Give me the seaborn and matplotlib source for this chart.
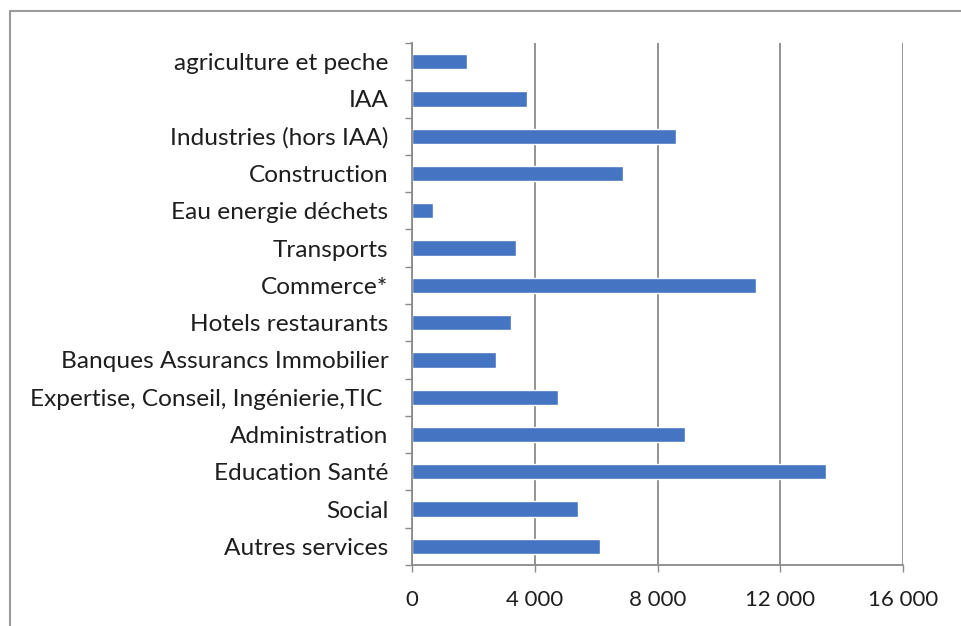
import matplotlib
matplotlib.use("Agg")
import matplotlib.pyplot as plt
import matplotlib.ticker as mticker
from matplotlib.lines import Line2D
import seaborn as sns
import pandas as pd

categories = [
    "agriculture et peche",
    "IAA",
    "Industries (hors IAA)",
    "Construction",
    "Eau energie déchets",
    "Transports",
    "Commerce*",
    "Hotels restaurants",
    "Banques Assurancs Immobilier",
    "Expertise, Conseil, Ingénierie,TIC ",
    "Administration",
    "Education Santé",
    "Social",
    "Autres services",
]
values = [1800, 3750, 8600, 6870, 690, 3400, 11200, 3240, 2740, 4750, 8890, 13490, 5410, 6120]
xticks = [0, 4000, 8000, 12000, 16000]

df = pd.DataFrame({"secteur": categories, "emplois": values})

sns.set_theme(style="white")
plt.rcParams["font.family"] = ["Lato", "DejaVu Sans"]

fig = plt.figure(figsize=(9.62, 6.26), dpi=100)
ax = fig.add_axes([412 / 962, 1 - 565 / 626, 491 / 962, 522 / 626])

sns.barplot(data=df, x="emplois", y="secteur", orient="h", color="#4575C2",
            saturation=1, width=0.41, ax=ax)

ax.set_xlim(0, 16000)
ax.set_ylim(len(categories) - 0.5, -0.5)
ax.set_xticks(xticks)
ax.xaxis.set_major_formatter(mticker.FuncFormatter(lambda v, p: f"{int(v):,}".replace(",", " ")))
ax.set_xlabel("")
ax.set_ylabel("")

grid_c = "#8a8a8a"
ax.grid(axis="x", color=grid_c, linewidth=1.3)
ax.set_axisbelow(True)
for s in ["top", "right"]:
    ax.spines[s].set_visible(False)
for s in ["left", "bottom"]:
    ax.spines[s].set_color(grid_c)
    ax.spines[s].set_linewidth(1.3)

ax.tick_params(axis="y", which="major", length=0, pad=17, labelsize=17.6, labelcolor="#1e1e1e")
ax.set_yticks([i - 0.5 for i in range(len(categories) + 1)], minor=True)
ax.tick_params(axis="y", which="minor", length=5, width=1, color=grid_c, direction="out")
ax.tick_params(axis="x", which="major", length=5, width=1, color=grid_c, direction="out",
               pad=13, labelsize=16, labelcolor="#1e1e1e")
ax.tick_params(axis="both", which="both", left=True, bottom=True)
ax.yaxis.set_tick_params(which="minor", left=True)

# outer chart frame
fig.add_artist(Line2D([10 / 962, 10 / 962], [0, 1 - 11 / 626], transform=fig.transFigure,
                      color="#9a9a9a", linewidth=1.5))
fig.add_artist(Line2D([10 / 962, 1], [1 - 11 / 626, 1 - 11 / 626], transform=fig.transFigure,
                      color="#9a9a9a", linewidth=1.5))

fig.savefig("out.png", dpi=100)
